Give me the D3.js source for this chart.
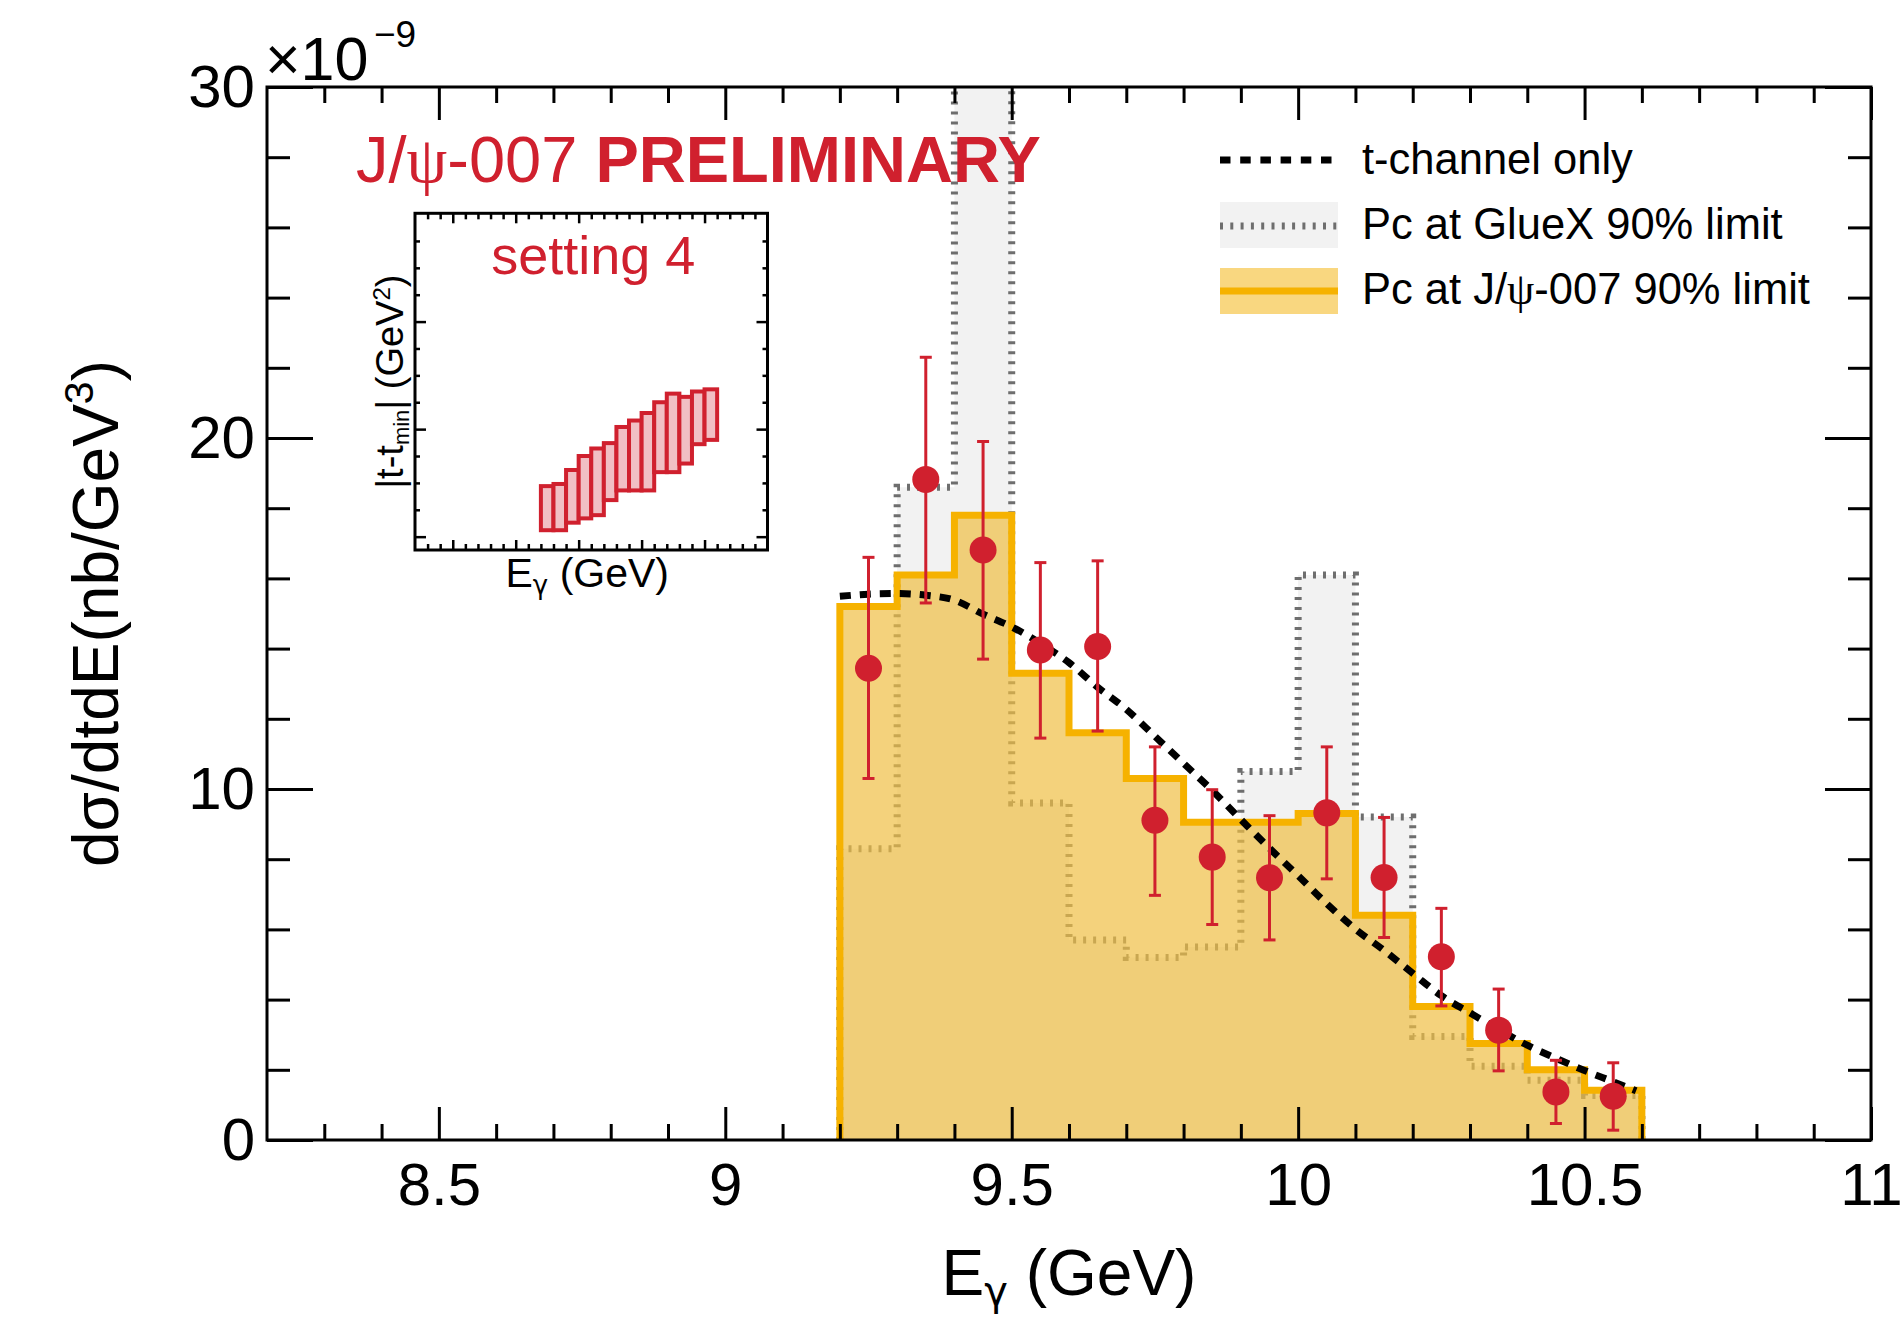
<!DOCTYPE html>
<html>
<head>
<meta charset="utf-8">
<script src="https://cdn.jsdelivr.net/npm/d3@7"></script>
<style>
	body { margin: 0; background: #fff; }
	svg { display: block; font-family: "Liberation Sans", Arial, Helvetica, sans-serif; }
</style>
</head>
<body>
<div id="chart"></div>
<script>
// Bin edges of the E_gamma histograms (GeV)
const binEdges = [9.2, 9.3, 9.4, 9.5, 9.6, 9.7, 9.8, 9.9, 10.0, 10.1, 10.2, 10.3, 10.4, 10.5, 10.6];

// Pc at J/psi-007 90% limit (x1e-9 nb/GeV^3)
const pcJpsi007 = [15.2, 16.1, 17.8, 13.3, 11.6, 10.3, 9.05, 9.05, 9.3, 6.4, 3.8, 2.75, 2.0, 1.42];
// Pc at GlueX 90% limit
const pcGlueX = [8.3, 18.6, 34.0, 9.6, 5.7, 5.2, 5.5, 10.5, 16.1, 9.2, 2.95, 2.1, 1.7, 1.27];

// Measured points
const dataE = [9.25, 9.35, 9.45, 9.55, 9.65, 9.75, 9.85, 9.95, 10.05, 10.15, 10.25, 10.35, 10.45, 10.55];
const dataY = [13.44, 18.82, 16.81, 13.96, 14.06, 9.11, 8.06, 7.47, 9.32, 7.48, 5.22, 3.13, 1.37, 1.25];
const dataHi = [16.6, 22.3, 19.9, 16.45, 16.5, 11.2, 9.98, 9.24, 11.2, 9.19, 6.6, 4.3, 2.27, 2.2];
const dataLo = [10.3, 15.3, 13.7, 11.45, 11.65, 6.97, 6.14, 5.7, 7.44, 5.77, 3.82, 1.97, 0.47, 0.28];

// t-channel only model curve
const curveE = [9.2, 9.25, 9.3, 9.35, 9.4, 9.45, 9.5, 9.55, 9.6, 9.65, 9.7, 9.75, 9.8, 9.85, 9.9, 9.95,
	10.0, 10.05, 10.1, 10.15, 10.2, 10.25, 10.3, 10.35, 10.4, 10.45, 10.5, 10.55, 10.59];
const curveY = [15.49, 15.55, 15.57, 15.52, 15.38, 14.98, 14.62, 14.15, 13.6, 12.9, 12.27, 11.5, 10.73, 9.96, 9.13, 8.31,
	7.53, 6.73, 6.01, 5.4, 4.75, 4.11, 3.62, 3.15, 2.7, 2.33, 1.98, 1.66, 1.4];

// Inset: |t-tmin| coverage per E_gamma bin (arbitrary units of the inset axis)
const insetLo = [0.06, 0.06, 0.13, 0.17, 0.2, 0.34, 0.43, 0.43, 0.43, 0.6, 0.6, 0.68, 0.86, 0.9];
const insetHi = [0.47, 0.49, 0.62, 0.75, 0.82, 0.87, 1.02, 1.08, 1.15, 1.25, 1.33, 1.3, 1.35, 1.37];

// Axis ticks
const xMajor = [8.5, 9, 9.5, 10, 10.5, 11];
const xMinor = d3.range(83, 111).map(v => v / 10).filter(v => Math.abs(v * 2 - Math.round(v * 2)) > 1e-6);
const yMajor = [0, 10, 20, 30];
const yMinor = [2, 4, 6, 8, 12, 14, 16, 18, 22, 24, 26, 28];
const insetYMajor = [0, 1, 2];
const insetYMinor = [0.25, 0.5, 0.75, 1.25, 1.5, 1.75, 2.25, 2.5, 2.75];

const RED = "#d0202e";
const ORANGE = "#f6b200";
const ORANGE_FILL = "rgba(239,191,68,0.7)";
const GRAY_FILL = "#f2f2f2";
const GRAY_LINE = "#6e6e6e";

const W = 1901, H = 1320;
const svg = d3.select("#chart").append("svg")
	.attr("width", W)
	.attr("height", H)
	.attr("viewBox", [0, 0, W, H]);

svg.append("rect").attr("width", W).attr("height", H).attr("fill", "#fff");

const x = d3.scaleLinear().domain([8.2, 11]).range([267, 1871]);
const y = d3.scaleLinear().domain([0, 30]).range([1140, 87]);

svg.append("defs").append("clipPath")
	.attr("id", "frame-clip")
	.append("rect")
	.attr("x", x.range()[0]).attr("y", y.range()[1])
	.attr("width", x.range()[1] - x.range()[0])
	.attr("height", y.range()[0] - y.range()[1]);

// step data for a histogram
function stepData(vals) {
	const pts = vals.map((v, i) => [binEdges[i], v]);
	pts.push([binEdges[binEdges.length - 1], vals[vals.length - 1]]);
	return pts;
}
function outlineData(vals) {
	const pts = [[binEdges[0], 0]].concat(stepData(vals));
	pts.push([binEdges[binEdges.length - 1], 0]);
	return pts;
}

const area = d3.area()
	.x(d => x(d[0]))
	.y0(y(0))
	.y1(d => y(d[1]))
	.curve(d3.curveStepAfter);
const stepLine = d3.line()
	.x(d => x(d[0]))
	.y(d => y(d[1]))
	.curve(d3.curveStepAfter);

const plot = svg.append("g").attr("clip-path", "url(#frame-clip)");

// GlueX limit (grey band)
plot.append("path")
	.datum(stepData(pcGlueX))
	.attr("fill", GRAY_FILL)
	.attr("d", area);

// Preliminary label
const prelim = svg.append("text")
	.attr("x", 356)
	.attr("y", 182)
	.attr("fill", RED)
	.style("font-size", "65px");
prelim.append("tspan").text("J/");
prelim.append("tspan").style("font-family", "'Liberation Serif', 'DejaVu Serif', serif").text("ψ");
prelim.append("tspan").text("-007 ");
prelim.append("tspan").style("font-weight", "bold").text("PRELIMINARY");

plot.append("path")
	.datum(outlineData(pcGlueX))
	.attr("fill", "none")
	.attr("stroke", GRAY_LINE)
	.attr("stroke-width", 7)
	.attr("stroke-dasharray", "3 7")
	.attr("d", stepLine);

// Axes (ticks point inward, ROOT style)
function ticks(axisFn, scale, values, size, translate, labels, padding) {
	const ax = axisFn(scale).tickValues(values).tickSize(-size)
		.tickFormat(labels ? d3.format("~g") : "");
	if (padding !== undefined) ax.tickPadding(padding);
	const g = svg.append("g").attr("transform", translate).call(ax);
	g.select(".domain").remove();
	g.attr("font-family", null).attr("font-size", null);
	g.selectAll("line").attr("stroke", "#000").attr("stroke-width", 3);
	g.selectAll("text").attr("fill", "#000").style("font-size", "60px");
	return g;
}
const x0 = x.range()[0], x1 = x.range()[1];
const yb = y.range()[0], yt = y.range()[1];

ticks(d3.axisBottom, x, xMajor, 33, `translate(0,${yb})`, true, 22);
ticks(d3.axisBottom, x, xMinor, 16, `translate(0,${yb})`, false);
ticks(d3.axisTop, x, xMajor, 33, `translate(0,${yt})`, false);
ticks(d3.axisTop, x, xMinor, 16, `translate(0,${yt})`, false);
ticks(d3.axisLeft, y, yMajor, 46, `translate(${x0},0)`, true, 12);
ticks(d3.axisLeft, y, yMinor, 23, `translate(${x0},0)`, false);
ticks(d3.axisRight, y, yMajor, 46, `translate(${x1},0)`, false);
ticks(d3.axisRight, y, yMinor, 23, `translate(${x1},0)`, false);

svg.append("rect")
	.attr("x", x0).attr("y", yt)
	.attr("width", x1 - x0).attr("height", yb - yt)
	.attr("fill", "none")
	.attr("stroke", "#000")
	.attr("stroke-width", 3);

// Exponent label
svg.append("text").attr("x", 265).attr("y", 80).style("font-size", "61px").text("×10");
svg.append("text").attr("x", 374).attr("y", 47).style("font-size", "37px").text("−9");

// J/psi-007 limit (orange band)
plot.append("path")
	.datum(stepData(pcJpsi007))
	.attr("fill", ORANGE_FILL)
	.attr("d", area);
plot.append("path")
	.datum(outlineData(pcJpsi007))
	.attr("fill", "none")
	.attr("stroke", ORANGE)
	.attr("stroke-width", 7)
	.attr("d", stepLine);

// t-channel only curve
const curvePts = curveE.map((e, i) => [e, curveY[i]]);
plot.append("path")
	.datum(curvePts)
	.attr("fill", "none")
	.attr("stroke", "#000")
	.attr("stroke-width", 7)
	.attr("stroke-dasharray", "11 9")
	.attr("d", d3.line().x(d => x(d[0])).y(d => y(d[1])).curve(d3.curveMonotoneX));

// Data points with error bars
const pts = dataE.map((e, i) => ({ e: e, v: dataY[i], lo: dataLo[i], hi: dataHi[i] }));
const pg = svg.append("g").selectAll("g").data(pts).join("g");
pg.append("line")
	.attr("x1", d => x(d.e)).attr("x2", d => x(d.e))
	.attr("y1", d => y(d.lo)).attr("y2", d => y(d.hi))
	.attr("stroke", RED).attr("stroke-width", 3);
pg.append("line")
	.attr("x1", d => x(d.e) - 6).attr("x2", d => x(d.e) + 6)
	.attr("y1", d => y(d.lo)).attr("y2", d => y(d.lo))
	.attr("stroke", RED).attr("stroke-width", 3);
pg.append("line")
	.attr("x1", d => x(d.e) - 6).attr("x2", d => x(d.e) + 6)
	.attr("y1", d => y(d.hi)).attr("y2", d => y(d.hi))
	.attr("stroke", RED).attr("stroke-width", 3);
pg.append("circle")
	.attr("cx", d => x(d.e)).attr("cy", d => y(d.v))
	.attr("r", 13.5)
	.attr("fill", RED);

// Axis titles
const xt = svg.append("text")
	.attr("x", (x0 + x1) / 2)
	.attr("y", 1295)
	.attr("text-anchor", "middle")
	.style("font-size", "64px");
xt.append("tspan").text("E");
xt.append("tspan").attr("dy", "0.25em").style("font-size", "40px")
	.style("font-family", "'DejaVu Sans', sans-serif").text("γ");
xt.append("tspan").attr("dy", "-0.16em").text(" (GeV)");

const yTitle = svg.append("text")
	.attr("transform", `translate(118,${(yb + yt) / 2}) rotate(-90)`)
	.attr("text-anchor", "middle")
	.style("font-size", "64px");
yTitle.append("tspan").text("dσ/dtdE(nb/GeV");
yTitle.append("tspan").attr("dy", "-0.6em").style("font-size", "41px").text("3");
yTitle.append("tspan").attr("dy", "0.39em").text(")");

// Legend
const legend = svg.append("g");
legend.append("line")
	.attr("x1", 1220).attr("x2", 1332).attr("y1", 160).attr("y2", 160)
	.attr("stroke", "#000").attr("stroke-width", 7).attr("stroke-dasharray", "10.5 9.7");
legend.append("rect")
	.attr("x", 1220).attr("y", 202).attr("width", 118).attr("height", 46)
	.attr("fill", GRAY_FILL);
legend.append("line")
	.attr("x1", 1220).attr("x2", 1338).attr("y1", 226).attr("y2", 226)
	.attr("stroke", GRAY_LINE).attr("stroke-width", 7).attr("stroke-dasharray", "3 7.3");
legend.append("rect")
	.attr("x", 1220).attr("y", 268).attr("width", 118).attr("height", 46)
	.attr("fill", "rgba(246,198,74,0.7)");
legend.append("line")
	.attr("x1", 1220).attr("x2", 1338).attr("y1", 291).attr("y2", 291)
	.attr("stroke", ORANGE).attr("stroke-width", 7);
legend.append("text").attr("x", 1362).attr("y", 174).style("font-size", "43.5px").text("t-channel only");
legend.append("text").attr("x", 1362).attr("y", 239).style("font-size", "43.5px").text("Pc at GlueX 90% limit");
const l3 = legend.append("text").attr("x", 1362).attr("y", 304).style("font-size", "43.5px");
l3.append("tspan").text("Pc at J/");
l3.append("tspan").style("font-family", "'Liberation Serif', 'DejaVu Serif', serif").text("ψ");
l3.append("tspan").text("-007 90% limit");

// Inset: kinematic coverage
const ix = d3.scaleLinear().domain([8.2, 11]).range([415, 767.5]);
const iy = d3.scaleLinear().domain([-0.124, 3.007]).range([550, 213.3]);
const inset = svg.append("g");

inset.append("g").selectAll("rect")
	.data(insetLo.map((lo, i) => ({ a: binEdges[i], b: binEdges[i + 1], lo: lo, hi: insetHi[i] })))
	.join("rect")
	.attr("x", d => ix(d.a))
	.attr("width", d => ix(d.b) - ix(d.a))
	.attr("y", d => iy(d.hi))
	.attr("height", d => iy(d.lo) - iy(d.hi))
	.attr("fill", "#f1bfc4")
	.attr("stroke", RED)
	.attr("stroke-width", 4);

function insetTicks(axisFn, scale, values, size, translate) {
	const g = inset.append("g").attr("transform", translate)
		.call(axisFn(scale).tickValues(values).tickSize(-size).tickFormat(""));
	g.select(".domain").remove();
	g.selectAll("line").attr("stroke", "#000").attr("stroke-width", 2.5);
}
const ix0 = ix.range()[0], ix1 = ix.range()[1];
const iyb = iy.range()[0], iyt = iy.range()[1];
insetTicks(d3.axisBottom, ix, [8.5, 9, 9.5, 10, 10.5], 10, `translate(0,${iyb})`);
insetTicks(d3.axisBottom, ix, xMinor.filter(v => v < 11), 6, `translate(0,${iyb})`);
insetTicks(d3.axisTop, ix, [8.5, 9, 9.5, 10, 10.5], 10, `translate(0,${iyt})`);
insetTicks(d3.axisTop, ix, xMinor.filter(v => v < 11), 6, `translate(0,${iyt})`);
insetTicks(d3.axisLeft, iy, insetYMajor, 11, `translate(${ix0},0)`);
insetTicks(d3.axisLeft, iy, insetYMinor, 5, `translate(${ix0},0)`);
insetTicks(d3.axisRight, iy, insetYMajor, 11, `translate(${ix1},0)`);
insetTicks(d3.axisRight, iy, insetYMinor, 5, `translate(${ix1},0)`);

inset.append("rect")
	.attr("x", ix0).attr("y", iyt)
	.attr("width", ix1 - ix0).attr("height", iyb - iyt)
	.attr("fill", "none")
	.attr("stroke", "#000")
	.attr("stroke-width", 3);

inset.append("text")
	.attr("x", (ix0 + ix1) / 2 + 2)
	.attr("y", 274)
	.attr("text-anchor", "middle")
	.attr("fill", RED)
	.style("font-size", "54px")
	.text("setting 4");

const ixt = inset.append("text")
	.attr("x", (ix0 + ix1) / 2 - 4)
	.attr("y", 587)
	.attr("text-anchor", "middle")
	.style("font-size", "41px");
ixt.append("tspan").text("E");
ixt.append("tspan").attr("dy", "0.25em").style("font-size", "26px")
	.style("font-family", "'DejaVu Sans', sans-serif").text("γ");
ixt.append("tspan").attr("dy", "-0.16em").text(" (GeV)");

const iyt2 = inset.append("text")
	.attr("transform", `translate(403,${(iyb + iyt) / 2}) rotate(-90)`)
	.attr("text-anchor", "middle")
	.style("font-size", "38px");
iyt2.append("tspan").text("|t-t");
iyt2.append("tspan").attr("dy", "0.25em").style("font-size", "22px").text("min");
iyt2.append("tspan").attr("dy", "-0.15em").text("| (GeV");
iyt2.append("tspan").attr("dy", "-0.55em").style("font-size", "24px").text("2");
iyt2.append("tspan").attr("dy", "0.35em").text(")");
</script>
</body>
</html>
